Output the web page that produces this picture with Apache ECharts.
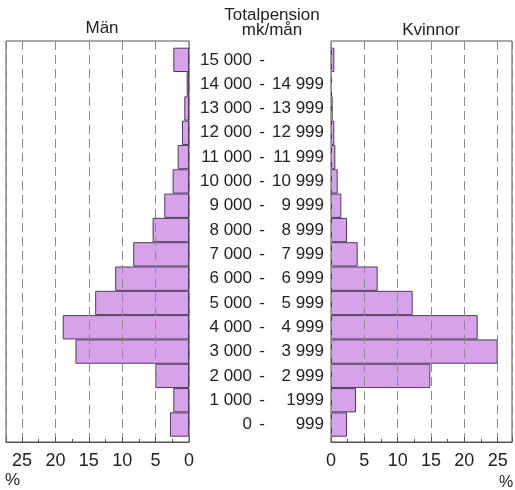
<!DOCTYPE html>
<html><head><meta charset="utf-8">
<script src="https://cdn.jsdelivr.net/npm/echarts@6/dist/echarts.min.js"></script>
<style>html,body{margin:0;padding:0;background:#fff}#c{width:515px;height:490px}</style>
</head><body><div id="c"></div>
<script>
// Income classes, top to bottom
const rangeFrom = ['15 000','14 000','13 000','12 000','11 000','10 000','9 000','8 000','7 000','6 000','5 000','4 000','3 000','2 000','1 000','0'];
const rangeTo   = ['','14 999','13 999','12 999','11 999','10 999','9 999','8 999','7 999','6 999','5 999','4 999','3 999','2 999','1999','999'];
const men   = [2.35,0.35,0.7,1.05,1.7,2.45,3.7,5.45,8.35,11.05,14.05,18.9,17.0,5.05,2.35,2.85];
const women = [0.5,0.15,0.25,0.5,0.65,1.0,1.55,2.4,4.0,7.0,12.25,22.0,25.0,14.9,3.75,2.4];
const tickValues = [0,5,10,15,20,25];
const titleMen = 'Män', titleWomen = 'Kvinnor', titleMid = 'Totalpension\nmk/mån';

const cats = rangeFrom.map((f,i)=>i);
const FONT = 'Liberation Sans, Arial, sans-serif';
const TXT = '#222';
const LINE = '#555';

const chart = echarts.init(document.getElementById('c'), null, {renderer:'canvas'});

function frameX(grid, max, inverse){
  return {
    type:'value', gridIndex:grid, min:0, max:max, interval:5, inverse:inverse, z:5,
    axisLine:{show:true, lineStyle:{color:LINE, width:1}},
    axisTick:{show:true, inside:true, length:5, lineStyle:{color:LINE}},
    minorTick:{show:true, splitNumber:2, length:3, lineStyle:{color:LINE}},
    splitLine:{show:true, lineStyle:{color:'#8a8a8a', type:[9,5], width:1}},
    axisLabel:{fontFamily:FONT, fontSize:18, color:TXT, margin:10,
      formatter:(v)=> tickValues.indexOf(v)>=0 ? String(v) : ''}
  };
}
function hiddenX(grid, max, inverse){
  return {type:'value', gridIndex:grid, min:0, max:max, inverse:inverse, show:false};
}

const option = {
  backgroundColor:'#fff',
  animation:false,
  grid:[
    {left:6, right:326, top:41, bottom:48, show:true, borderColor:LINE, borderWidth:1, backgroundColor:'transparent'},
    {left:6, right:326, top:47.7, bottom:53.3},
    {left:331, right:3, top:41, bottom:48, show:true, borderColor:LINE, borderWidth:1, backgroundColor:'transparent'},
    {left:331, right:3, top:47.7, bottom:53.3}
  ],
  xAxis:[
    frameX(0, 27.4, true),
    hiddenX(1, 27.4, true),
    frameX(2, 27.15, false),
    hiddenX(3, 27.15, false)
  ],
  yAxis:[
    {type:'value', gridIndex:0, min:0, max:1, show:false},
    {type:'category', gridIndex:1, data:cats, inverse:true, show:false},
    {type:'value', gridIndex:2, min:0, max:1, show:false},
    {type:'category', gridIndex:3, data:cats, inverse:true, position:'left',
      axisLine:{show:false}, axisTick:{show:false}, splitLine:{show:false},
      axisLabel:{show:true, margin:7, interval:0,
        formatter:(v,i)=> '{a|'+rangeFrom[i]+'}{b|-}{c|'+(rangeTo[i]||' ')+'}',
        rich:{
          a:{fontFamily:FONT, fontSize:17, color:TXT, width:54, align:'right'},
          b:{fontFamily:FONT, fontSize:17, color:TXT, width:13, align:'right'},
          c:{fontFamily:FONT, fontSize:17, color:TXT, width:59, align:'right'}
        }}
    }
  ],
  title:[
    {text:titleMen, left:97, top:15, textAlign:'center', textStyle:{fontFamily:FONT, fontSize:17, fontWeight:'normal', color:TXT}},
    {text:titleWomen, left:426, top:17, textAlign:'center', textStyle:{fontFamily:FONT, fontSize:17, fontWeight:'normal', color:TXT}},
    {text:titleMid, left:267, top:3, textAlign:'center', textStyle:{fontFamily:FONT, fontSize:17, fontWeight:'normal', color:TXT, lineHeight:15}},
    {text:'%', left:0, top:467, textStyle:{fontFamily:FONT, fontSize:17, fontWeight:'normal', color:TXT}},
    {text:'%', left:494, top:470, textStyle:{fontFamily:FONT, fontSize:16, fontWeight:'normal', color:TXT}}
  ],
  series:[
    {type:'bar', xAxisIndex:1, yAxisIndex:1, data:men, barCategoryGap:0, z:2,
      itemStyle:{color:'#d8a2ea', borderColor:'#4b3b5b', borderWidth:1}},
    {type:'bar', xAxisIndex:3, yAxisIndex:3, data:women, barCategoryGap:0, z:2,
      itemStyle:{color:'#d8a2ea', borderColor:'#4b3b5b', borderWidth:1}}
  ]
};
chart.setOption(option);
</script>
</body></html>
